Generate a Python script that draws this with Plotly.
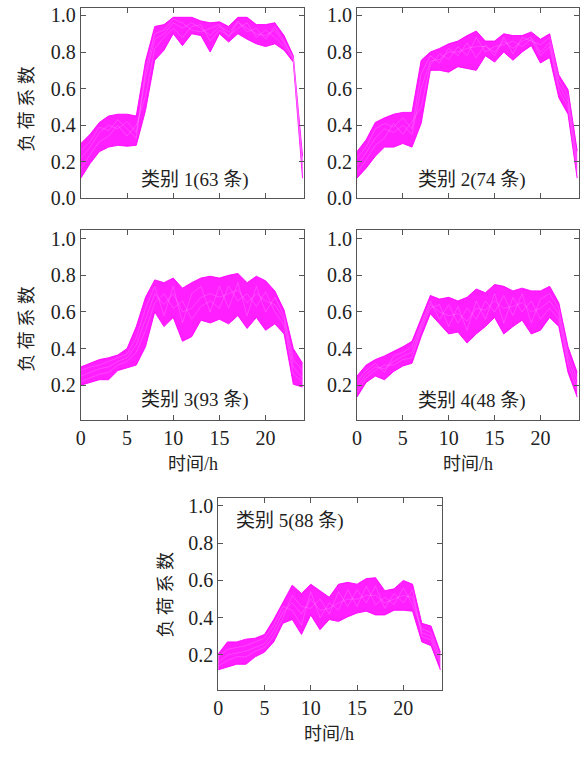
import plotly.graph_objects as go

hours = list(range(25))

# Cluster 1 (63 curves) - envelope and representative curves
c1_upper = [0.30,0.35,0.415,0.45,0.46,0.46,0.45,0.75,0.94,0.95,0.99,0.99,0.99,0.97,0.96,0.965,0.94,0.99,0.99,0.95,0.95,0.96,0.89,0.78,0.23]
c1_lower = [0.11,0.19,0.255,0.28,0.29,0.285,0.29,0.48,0.755,0.81,0.90,0.835,0.90,0.89,0.80,0.90,0.855,0.90,0.87,0.845,0.83,0.845,0.81,0.745,0.11]
c1_mid_a = [0.22,0.28,0.36,0.40,0.38,0.42,0.36,0.66,0.87,0.90,0.96,0.93,0.96,0.93,0.89,0.94,0.91,0.96,0.93,0.90,0.89,0.92,0.85,0.77,0.17]
c1_mid_b = [0.16,0.24,0.31,0.34,0.40,0.34,0.40,0.56,0.82,0.88,0.93,0.88,0.94,0.95,0.86,0.92,0.89,0.93,0.96,0.88,0.92,0.88,0.83,0.76,0.14]
c1_mid_c = [0.26,0.31,0.39,0.37,0.43,0.38,0.33,0.70,0.90,0.92,0.98,0.96,0.92,0.91,0.93,0.95,0.88,0.97,0.91,0.93,0.87,0.94,0.86,0.765,0.20]

# Cluster 2 (74 curves)
c2_upper = [0.255,0.32,0.415,0.44,0.46,0.47,0.47,0.755,0.80,0.82,0.845,0.86,0.89,0.915,0.86,0.86,0.90,0.89,0.89,0.91,0.87,0.90,0.675,0.595,0.26]
c2_lower = [0.11,0.165,0.23,0.28,0.28,0.30,0.28,0.41,0.70,0.70,0.69,0.72,0.71,0.70,0.78,0.745,0.80,0.755,0.80,0.835,0.74,0.77,0.55,0.46,0.11]
c2_mid_a = [0.18,0.25,0.33,0.38,0.36,0.40,0.35,0.60,0.75,0.76,0.80,0.80,0.82,0.83,0.83,0.80,0.86,0.82,0.86,0.88,0.80,0.85,0.62,0.53,0.18]
c2_mid_b = [0.14,0.21,0.29,0.33,0.41,0.35,0.42,0.50,0.73,0.79,0.76,0.83,0.78,0.88,0.80,0.83,0.84,0.86,0.83,0.87,0.78,0.83,0.59,0.50,0.14]
c2_mid_c = [0.22,0.28,0.38,0.41,0.39,0.44,0.38,0.68,0.78,0.74,0.82,0.78,0.85,0.77,0.84,0.78,0.88,0.79,0.88,0.86,0.84,0.88,0.65,0.56,0.22]

# Cluster 3 (93 curves)
c3_upper = [0.30,0.32,0.34,0.35,0.365,0.40,0.52,0.68,0.775,0.76,0.785,0.73,0.76,0.785,0.795,0.785,0.80,0.81,0.76,0.795,0.77,0.715,0.61,0.40,0.32]
c3_lower = [0.20,0.215,0.23,0.23,0.28,0.295,0.31,0.41,0.60,0.52,0.57,0.44,0.465,0.555,0.54,0.56,0.535,0.58,0.51,0.57,0.50,0.535,0.48,0.205,0.19]
c3_mid_a = [0.25,0.27,0.29,0.30,0.33,0.35,0.42,0.56,0.70,0.64,0.70,0.60,0.62,0.68,0.70,0.68,0.70,0.72,0.65,0.70,0.66,0.64,0.56,0.30,0.24]
c3_mid_b = [0.22,0.24,0.26,0.27,0.31,0.33,0.38,0.50,0.65,0.70,0.62,0.66,0.56,0.63,0.66,0.62,0.74,0.66,0.70,0.63,0.71,0.60,0.53,0.26,0.22]
c3_mid_c = [0.28,0.30,0.31,0.33,0.35,0.37,0.46,0.62,0.74,0.58,0.74,0.54,0.70,0.74,0.60,0.74,0.62,0.76,0.58,0.74,0.60,0.68,0.58,0.34,0.28]

# Cluster 4 (48 curves)
c4_upper = [0.25,0.31,0.34,0.36,0.385,0.41,0.44,0.57,0.69,0.67,0.68,0.66,0.68,0.725,0.705,0.75,0.74,0.715,0.73,0.715,0.715,0.74,0.65,0.41,0.27]
c4_lower = [0.135,0.215,0.25,0.23,0.275,0.305,0.32,0.465,0.59,0.535,0.48,0.49,0.43,0.48,0.52,0.57,0.48,0.52,0.555,0.48,0.50,0.57,0.52,0.27,0.135]
c4_mid_a = [0.19,0.26,0.30,0.29,0.33,0.36,0.38,0.52,0.64,0.60,0.58,0.59,0.55,0.62,0.61,0.66,0.62,0.63,0.65,0.60,0.62,0.66,0.59,0.34,0.20]
c4_mid_b = [0.16,0.24,0.28,0.31,0.31,0.34,0.35,0.50,0.62,0.64,0.52,0.63,0.50,0.66,0.56,0.70,0.54,0.68,0.60,0.66,0.56,0.62,0.56,0.31,0.17]
c4_mid_c = [0.22,0.28,0.32,0.27,0.36,0.38,0.41,0.54,0.66,0.56,0.64,0.54,0.62,0.56,0.66,0.60,0.69,0.58,0.70,0.54,0.67,0.70,0.62,0.37,0.23]

# Cluster 5 (88 curves)
c5_upper = [0.205,0.27,0.27,0.285,0.29,0.31,0.39,0.485,0.575,0.53,0.58,0.545,0.51,0.58,0.59,0.58,0.61,0.615,0.545,0.555,0.60,0.58,0.37,0.355,0.215]
c5_lower = [0.12,0.135,0.15,0.15,0.19,0.215,0.27,0.37,0.39,0.31,0.415,0.335,0.39,0.38,0.405,0.425,0.435,0.415,0.415,0.44,0.44,0.435,0.27,0.25,0.12]
c5_mid_a = [0.16,0.20,0.21,0.22,0.24,0.26,0.33,0.43,0.48,0.42,0.50,0.44,0.45,0.48,0.50,0.50,0.52,0.52,0.48,0.50,0.52,0.51,0.32,0.30,0.17]
c5_mid_b = [0.14,0.17,0.19,0.19,0.22,0.24,0.30,0.40,0.52,0.46,0.45,0.50,0.42,0.54,0.46,0.55,0.48,0.57,0.45,0.53,0.48,0.55,0.30,0.28,0.15]
c5_mid_c = [0.19,0.23,0.24,0.25,0.27,0.29,0.36,0.46,0.44,0.36,0.54,0.40,0.48,0.44,0.55,0.46,0.57,0.47,0.51,0.47,0.56,0.47,0.34,0.32,0.19]

cluster_labels = ["类别 1(63 条)", "类别 2(74 条)", "类别 3(93 条)", "类别 4(48 条)", "类别 5(88 条)"]
y_title = "负 荷 系 数"
x_title = "时间/h"

clusters = [
    (c1_upper, c1_lower, [c1_mid_a, c1_mid_b, c1_mid_c]),
    (c2_upper, c2_lower, [c2_mid_a, c2_mid_b, c2_mid_c]),
    (c3_upper, c3_lower, [c3_mid_a, c3_mid_b, c3_mid_c]),
    (c4_upper, c4_lower, [c4_mid_a, c4_mid_b, c4_mid_c]),
    (c5_upper, c5_lower, [c5_mid_a, c5_mid_b, c5_mid_c]),
]

W, H = 581, 758
# frame boxes in pixels: left, right, top, bottom
boxes = [
    (76.5, 302, 4.7, 199),
    (355, 579, 4.7, 199),
    (76.5, 302, 231.7, 424.7),
    (355, 579, 231.7, 424.7),
    (215, 441, 504.3, 699.7),
]
yranges = [[0, 1.043], [0, 1.043], [0.011, 1.045], [0.011, 1.045], [0.013, 1.043]]

MAG = "#FF00FF"
fig = go.Figure()
for i, (up, lo, mids) in enumerate(clusters):
    ax = "" if i == 0 else str(i + 1)
    xa, ya = "x" + ax, "y" + ax
    fig.add_trace(go.Scatter(x=hours, y=lo, mode="lines", line=dict(color=MAG, width=0.9),
                             xaxis=xa, yaxis=ya, showlegend=False, hoverinfo="skip"))
    fig.add_trace(go.Scatter(x=hours, y=up, mode="lines", line=dict(color=MAG, width=0.9),
                             fill="tonexty", fillcolor="rgba(255,0,255,0.88)",
                             xaxis=xa, yaxis=ya, showlegend=False, hoverinfo="skip"))
    for m in mids:
        fig.add_trace(go.Scatter(x=hours, y=m, mode="lines", line=dict(color="rgba(255,170,255,0.55)", width=0.5),
                                 xaxis=xa, yaxis=ya, showlegend=False, hoverinfo="skip"))

tickfont = dict(family="Liberation Serif, Times New Roman, serif", size=20, color="#222")
layout = dict(width=W, height=H, margin=dict(l=0, r=0, t=0, b=0),
              paper_bgcolor="white", plot_bgcolor="white", showlegend=False)
annotations = []
for i, (l, r, t, b) in enumerate(boxes):
    ax = "" if i == 0 else str(i + 1)
    show_x = i >= 2
    layout["xaxis" + ax] = dict(
        domain=[l / W, r / W], range=[0, 24.2], anchor="y" + ax,
        tickvals=[0, 5, 10, 15, 20], ticks="inside", ticklen=5, tickcolor="#555",
        showline=True, linecolor="#555", linewidth=1, mirror="ticks",
        showgrid=False, zeroline=False, showticklabels=show_x, tickfont=tickfont)
    yt = [0, 0.2, 0.4, 0.6, 0.8, 1.0] if i < 2 else [0.2, 0.4, 0.6, 0.8, 1.0]
    layout["yaxis" + ax] = dict(
        domain=[1 - b / H, 1 - t / H], range=yranges[i], anchor="x" + ax,
        tickvals=yt, ticktext=["%.1f" % v for v in yt], ticks="inside", ticklen=5, tickcolor="#555",
        showline=True, linecolor="#555", linewidth=1, mirror="ticks",
        showgrid=False, zeroline=False, tickfont=tickfont)

cjk = "Liberation Serif, Noto Sans CJK SC, serif"
# cluster labels
label_pos = [(192, 180), (471, 180), (192, 404), (471, 405), (287, 528)]
for txt, (x, y) in zip(cluster_labels, label_pos):
    annotations.append(dict(text=txt, x=x / W, y=1 - y / H, xref="paper", yref="paper",
                            showarrow=False, xanchor="center", yanchor="middle",
                            font=dict(family=cjk, size=19, color="#222")))
# y titles
for (x, y) in [(22, 108), (22, 332), (162, 603)]:
    annotations.append(dict(text=y_title, x=x / W, y=1 - y / H, xref="paper", yref="paper",
                            showarrow=False, textangle=-90, xanchor="center", yanchor="middle",
                            font=dict(family=cjk, size=18, color="#222")))
# x titles
for (x, y) in [(190, 470), (467, 470), (327, 745)]:
    annotations.append(dict(text=x_title, x=x / W, y=1 - y / H, xref="paper", yref="paper",
                            showarrow=False, xanchor="center", yanchor="middle",
                            font=dict(family=cjk, size=18, color="#222")))
layout["annotations"] = annotations
fig.update_layout(**layout)
fig.write_html("out.html")
